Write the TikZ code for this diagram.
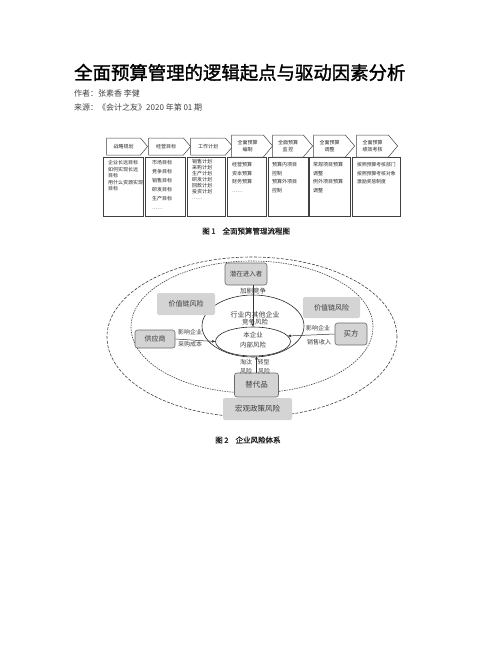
\documentclass[tikz,border=0pt]{standalone}
\usepackage{fontspec}
\newfontfamily\cjk{Noto Sans CJK SC}[AutoFakeBold=1.5]
\usetikzlibrary{shapes.symbols,shapes.geometric,arrows.meta}
\definecolor{boxgray}{HTML}{D4D4D4}
\definecolor{edgegray}{HTML}{6A6A6A}
\definecolor{txtgray}{HTML}{3C3C3C}

\tikzset{
  flowhead/.style={signal, signal to=east, signal pointer angle=100, draw=black!75, fill=white,
    line width=0.5pt, inner sep=0pt, font=\cjk\fontsize{5}{6.5}\selectfont, align=center, text=black!85},
  flowbox/.style={draw=black!75, line width=0.5pt, anchor=north west, inner sep=0pt, minimum height=59pt},
  flowtext/.style={anchor=north west, inner sep=0pt, align=left, text=black!85},
  riskbox/.style={draw=edgegray, fill=boxgray, rounded corners=2.5pt, line width=0.6pt,
    text=txtgray, font=\cjk\fontsize{7}{8}\selectfont},
  riskarea/.style={fill=boxgray, rounded corners=2pt, text=txtgray, font=\cjk\fontsize{7}{8}\selectfont},
  risklabel/.style={text=txtgray, inner sep=0pt, font=\cjk\fontsize{6}{7}\selectfont},
  link/.style={draw=black!80, line width=0.5pt, -{Triangle[length=3pt,width=2.5pt]}}
}

\begin{document}
\begin{tikzpicture}[x=1pt,y=-1pt]
\useasboundingbox (0,0) rectangle (502,649);

% page head
\node[anchor=west, inner sep=0pt, font=\cjk\bfseries\fontsize{18.4}{20}\selectfont] (title) at (74,72.5) {全面预算管理的逻辑起点与驱动因素分析};
\node[anchor=west, inner sep=0pt, text=black!75, font=\cjk\fontsize{8}{9}\selectfont] (author) at (74,93) {作者：张素香 李健};
\node[anchor=west, inner sep=0pt, text=black!75, font=\cjk\fontsize{8}{9}\selectfont] (source) at (74,107) {来源：《会计之友》2020 年第 01 期};

% figure 1
\node[flowbox, minimum width=40pt] (b1) at (103,157) {};
\node[flowbox, minimum width=40pt] (b2) at (145,157) {};
\node[flowbox, minimum width=38pt] (b3) at (187,157) {};
\node[flowbox, minimum width=39pt] (b4) at (227,157) {};
\node[flowbox, minimum width=40pt] (b5) at (268,157) {};
\node[flowbox, minimum width=41pt] (b6) at (309,157) {};
\node[flowbox, minimum width=48pt] (b7) at (352,157) {};

\node[flowhead, minimum width=41pt, minimum height=17pt] (h1) at (123.5,146.5) {战略规划};
\node[flowhead, minimum width=42pt, minimum height=17pt] (h2) at (166,146.5) {经营目标};
\node[flowhead, minimum width=42pt, minimum height=17pt] (h3) at (208,146.5) {工作计划};
\node[flowhead, minimum width=41pt, minimum height=22pt] (h4) at (247.5,146) {全面预算\\编制};
\node[flowhead, minimum width=40pt, minimum height=22pt] (h5) at (288,146) {全面预算\\监\,控};
\node[flowhead, minimum width=41pt, minimum height=22pt] (h6) at (329.5,146) {全面预算\\调整};
\node[flowhead, minimum width=41pt, minimum height=22pt] (h7) at (372.5,146) {全面预算\\绩效考核};

\node[flowtext, font=\cjk\fontsize{5}{6.5}\selectfont] (t1) at (108,160.5) {企业长远目标\\如何实现长远\\目标\\用什么资源实现\\目标};
\node[flowtext, font=\cjk\fontsize{5}{9}\selectfont] (t2) at (152,160.5) {市场目标\\竞争目标\\销售目标\\研发目标\\生产目标\\……};
\node[flowtext, font=\cjk\fontsize{5}{6}\selectfont] (t3) at (192,159.5) {销售计划\\采购计划\\生产计划\\研发计划\\回款计划\\投资计划\\……};
\node[flowtext, font=\cjk\fontsize{5}{8.4}\selectfont] (t4) at (232,162.5) {经营预算\\资本预算\\财务预算\\……};
\node[flowtext, font=\cjk\fontsize{5}{8.4}\selectfont] (t5) at (272,162.5) {预算内项目\\控制\\预算外项目\\控制};
\node[flowtext, font=\cjk\fontsize{5}{8.4}\selectfont] (t6) at (313,162.5) {常规项目预算\\调整\\例外项目预算\\调整};
\node[flowtext, font=\cjk\fontsize{4.8}{8.5}\selectfont] (t7) at (357,162.5) {按照预算考核部门\\按照预算考核对象\\激励奖惩制度};

\node[anchor=west, inner sep=0pt, text=black!85, font=\cjk\bfseries\fontsize{7.5}{9}\selectfont] (cap1) at (202,231) {图 1\hspace{7pt}全面预算管理流程图};

% figure 2
\node[ellipse, draw=black!75, dash pattern=on 3pt off 1.5pt, line width=0.6pt, minimum width=290pt, minimum height=160pt] (outer) at (252,337) {};
\node[ellipse, draw=black!75, dash pattern=on 1.5pt off 1pt, line width=0.6pt, minimum width=242pt, minimum height=132pt] (mid) at (252,327) {};
\node[ellipse, draw=black!85, line width=0.6pt, minimum width=102pt, minimum height=62pt] (rival) at (253,326) {};
\node[ellipse, draw=black!85, line width=0.6pt, minimum width=75pt, minimum height=29pt] (self) at (253,341.5) {};

\node[text=txtgray, inner sep=0pt, align=center, font=\cjk\fontsize{7}{7}\selectfont] (rivaltxt) at (255,318.5) {行业内其他企业\\{\fontsize{6.5}{7}\selectfont 竞争风险}};
\node[text=txtgray, inner sep=0pt, align=center, font=\cjk\fontsize{6.5}{10}\selectfont] (selftxt) at (253,340) {本企业\\内部风险};

\node[riskbox, minimum width=42pt, minimum height=22pt, font=\cjk\fontsize{6.5}{8}\selectfont] (entrant) at (246,274) {潜在进入者};
\node[riskarea, minimum width=58pt, minimum height=22pt] (chainL) at (186,304) {价值链风险};
\node[riskarea, minimum width=57pt, minimum height=21pt] (chainR) at (331.5,307.5) {价值链风险};
\node[riskbox, minimum width=40pt, minimum height=18pt] (supplier) at (155,339) {供应商};
\node[riskbox, minimum width=32pt, minimum height=22pt, font=\cjk\fontsize{7.5}{8}\selectfont] (buyer) at (351,334) {买方};
\node[riskbox, minimum width=44pt, minimum height=24pt, font=\cjk\fontsize{7.5}{8}\selectfont] (subst) at (256.5,385) {替代品};
\node[riskarea, minimum width=69pt, minimum height=22pt, font=\cjk\fontsize{7.5}{8}\selectfont] (macro) at (257.5,409) {宏观政策风险};

\draw[link] (entrant.south -| self.north) -- (self.north);
\draw[link] (supplier.east) -- (self.west);
\draw[link] (buyer.west) -- (self.9);
\draw[link] (subst.north) -- (subst.north |- self.south);

\node[risklabel, font=\cjk\fontsize{6.5}{7}\selectfont] (lrise) at (253,291) {加剧竞争};
\node[risklabel] (lsup1) at (190,332) {影响企业};
\node[risklabel] (lsup2) at (190,344.5) {采购成本};
\node[risklabel] (lbuy1) at (318,328) {影响企业};
\node[risklabel] (lbuy2) at (319,342) {销售收入};
\node[risklabel] (lsub1) at (246,362) {淘汰};
\node[risklabel] (lsub2) at (263.5,362) {转型};
\node[risklabel] (lsub3) at (246,371) {风险};
\node[risklabel] (lsub4) at (264,371) {风险};

\node[anchor=west, inner sep=0pt, text=black!85, font=\cjk\bfseries\fontsize{7.5}{9}\selectfont] (cap2) at (215,440) {图 2\hspace{7pt}企业风险体系};
\end{tikzpicture}
\end{document}
